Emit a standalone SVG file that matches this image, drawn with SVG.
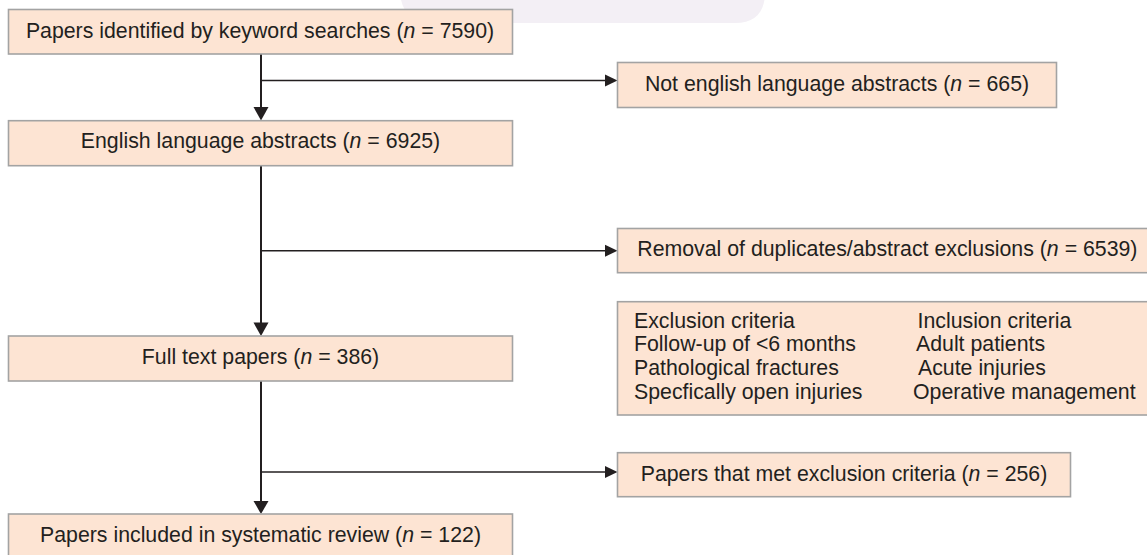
<svg xmlns="http://www.w3.org/2000/svg" width="1147" height="555" viewBox="0 0 1147 555">
<style>
.box{fill:#fde4d3;stroke:#a3a3a3;stroke-width:1.6}
.t{font-family:"Liberation Sans",Arial,sans-serif;font-size:21.3px;fill:#231f20}
.c{text-anchor:middle}
.ln{stroke:#231f20;fill:none}
.ah{fill:#231f20}
</style>
<rect width="1147" height="555" fill="#ffffff"/>
<path d="M400,-10 L765,-10 L765,-8 Q765,23 735,23 L432,23 Q402,23 400,-8 Z" fill="#f3eff5"/>
<g id="connectors">
<line class="ln" stroke-width="2" x1="261" y1="54" x2="261" y2="108"/>
<polygon class="ah" points="253.5,107 268.5,107 261,120.5"/>
<line class="ln" stroke-width="1.6" x1="261" y1="80.5" x2="606" y2="80.5"/>
<polygon class="ah" points="605,74.5 617.5,80.5 605,86.5"/>
<line class="ln" stroke-width="2" x1="261" y1="166" x2="261" y2="323"/>
<polygon class="ah" points="253.5,322.5 268.5,322.5 261,336"/>
<line class="ln" stroke-width="1.6" x1="261" y1="250.7" x2="606" y2="250.7"/>
<polygon class="ah" points="605,244.7 617.5,250.7 605,256.7"/>
<line class="ln" stroke-width="2" x1="261" y1="381" x2="261" y2="502"/>
<polygon class="ah" points="253.5,501 268.5,501 261,514"/>
<line class="ln" stroke-width="1.6" x1="261" y1="472" x2="606" y2="472"/>
<polygon class="ah" points="605,466 617.5,472 605,478"/>
</g>
<g id="n1">
<rect class="box" x="8.5" y="9.5" width="504" height="44.5"/>
<text class="t c" x="260" y="37.7">Papers identified by keyword searches (<tspan font-style="italic">n</tspan> = 7590)</text>
</g>
<g id="n2">
<rect class="box" x="617.5" y="62.5" width="439" height="45"/>
<text class="t c" x="837" y="91">Not english language abstracts (<tspan font-style="italic">n</tspan> = 665)</text>
</g>
<g id="n3">
<rect class="box" x="8.5" y="120.7" width="504" height="45"/>
<text class="t c" x="260.5" y="148.3">English language abstracts (<tspan font-style="italic">n</tspan> = 6925)</text>
</g>
<g id="n4">
<rect class="box" x="617.5" y="228.5" width="540" height="44.2"/>
<text class="t" x="637.3" y="256">Removal of duplicates/abstract exclusions (<tspan font-style="italic">n</tspan> = 6539)</text>
</g>
<g id="n5">
<rect class="box" x="617.5" y="301.7" width="540" height="113.3"/>
<text class="t" x="634" y="327.5">Exclusion criteria</text>
<text class="t" x="634" y="351.3">Follow-up of &lt;6 months</text>
<text class="t" x="634" y="375">Pathological fractures</text>
<text class="t" x="634" y="398.7">Specfically open injuries</text>
<text class="t" x="917.5" y="327.5">Inclusion criteria</text>
<text class="t" x="916" y="351.3">Adult patients</text>
<text class="t" x="918" y="375">Acute injuries</text>
<text class="t" x="913" y="398.7">Operative management</text>
</g>
<g id="n6">
<rect class="box" x="8.5" y="336" width="504" height="45"/>
<text class="t c" x="260.5" y="364">Full text papers (<tspan font-style="italic">n</tspan> = 386)</text>
</g>
<g id="n7">
<rect class="box" x="617.5" y="452.7" width="453" height="44"/>
<text class="t c" x="844" y="480.7">Papers that met exclusion criteria (<tspan font-style="italic">n</tspan> = 256)</text>
</g>
<g id="n8">
<rect class="box" x="8.5" y="514" width="504" height="50"/>
<text class="t c" x="260.5" y="541.7">Papers included in systematic review (<tspan font-style="italic">n</tspan> = 122)</text>
</g>
</svg>
